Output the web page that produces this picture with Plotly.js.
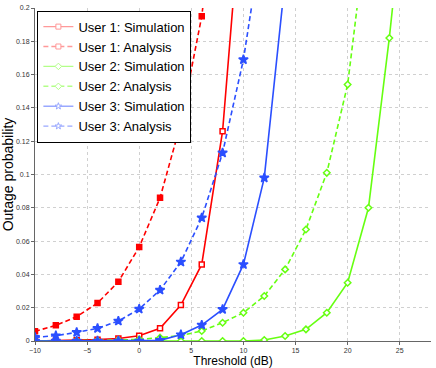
<!DOCTYPE html>
<html>
<head>
<meta charset="utf-8">
<script src="https://cdn.plot.ly/plotly-3.0.1.min.js"></script>
<style>
  html, body { margin: 0; padding: 0; background: #fff; }
  #gd { width: 436px; height: 368px; }
</style>
</head>
<body>
<div id="gd"></div>
<script>
// threshold in dB, every 2 dB (last point of each curve runs past the top)
var thr = [-10, -8, -6, -4, -2, 0, 2, 4, 6, 8, 10, 12, 14, 16, 18, 20, 22, 24, 26];

var user1Sim = [0, 0.0002, 0.0004, 0.0008, 0.0015, 0.0032, 0.0076, 0.0216, 0.046, 0.126, 0.279];
var user1Ana = [0.0058, 0.0094, 0.0146, 0.0228, 0.0356, 0.0565, 0.086, 0.131, 0.195, 0.30];
var user2Sim = [0, 0, 0, 0, 0, 0, 0, 0, 0, 0, 0, 0.0006, 0.003, 0.007, 0.017, 0.035, 0.080, 0.182, 0.30];
var user2Ana = [0, 0, 0.0001, 0.0003, 0.0006, 0.001, 0.002, 0.0033, 0.006, 0.011, 0.017, 0.027, 0.043, 0.067, 0.101, 0.154, 0.256];
var user3Sim = [0, 0, 0, 0, 0, 0, 0.0004, 0.0038, 0.0096, 0.019, 0.046, 0.098, 0.217];
var user3Ana = [0.0022, 0.0032, 0.0052, 0.0076, 0.012, 0.0192, 0.0306, 0.0475, 0.074, 0.113, 0.169, 0.25];

var red = "#ff0000", green = "#66ff11", blue = "#2b4fff";

function series(y, name, color, dash, symbol, fill) {
  return {
    type: "scatter",
    mode: "lines+markers",
    x: thr.slice(0, y.length),
    y: y,
    name: name,
    showlegend: false,
    line: {color: color, width: 1.6, dash: dash},
    marker: {
      symbol: symbol,
      size: symbol.indexOf("star") === 0 ? 7 : 5,
      color: fill ? color : "#fff",
      line: {color: color, width: 1.5}
    }
  };
}

// legend entries in the faded style of the original
function legendEntry(name, color, dash, symbol) {
  return {
    type: "scatter",
    mode: "lines+markers",
    x: [null],
    y: [null],
    name: name,
    line: {color: color, width: 1.4, dash: dash},
    marker: {symbol: symbol, size: 5, color: "#fff", line: {color: color, width: 1}}
  };
}

var dashed = "5px,3px";

var data = [
  series(user1Sim, "User 1: Simulation", red, "solid", "square", false),
  series(user1Ana, "User 1: Analysis", red, dashed, "square", true),
  series(user2Sim, "User 2: Simulation", green, "solid", "diamond", false),
  series(user2Ana, "User 2: Analysis", green, dashed, "diamond", false),
  series(user3Sim, "User 3: Simulation", blue, "solid", "star", true),
  series(user3Ana, "User 3: Analysis", blue, dashed, "star", true),
  legendEntry("User 1: Simulation", "#ff9999", "solid", "square"),
  legendEntry("User 1: Analysis", "#ff9999", dashed, "square"),
  legendEntry("User 2: Simulation", "#b3ff88", "solid", "diamond"),
  legendEntry("User 2: Analysis", "#b3ff88", dashed, "diamond"),
  legendEntry("User 3: Simulation", "#99a8ff", "solid", "star"),
  legendEntry("User 3: Analysis", "#99a8ff", dashed, "star")
];

var layout = {
  width: 436,
  height: 368,
  margin: {l: 35, r: 5, t: 8, b: 27},
  paper_bgcolor: "#fff",
  plot_bgcolor: "#fff",
  font: {family: "Liberation Sans, Arial, sans-serif", color: "#000"},
  showlegend: true,
  legend: {
    x: 0.006, y: 0.992, xanchor: "left", yanchor: "top",
    bgcolor: "#fff", bordercolor: "#000", borderwidth: 1,
    font: {size: 13, color: "#000"},
    itemwidth: 30,
    tracegroupgap: 0
  },
  xaxis: {
    range: [-10, 28],
    tickvals: [-10, -5, 0, 5, 10, 15, 20, 25],
    tickfont: {size: 7, color: "#333"},
    ticks: "outside", ticklen: 3, tickcolor: "#666",
    showline: true, linecolor: "#666", linewidth: 1,
    showgrid: true, gridcolor: "#d0d0d0", griddash: "dot", gridwidth: 1,
    zeroline: false,
    title: {text: "Threshold (dB)", font: {size: 12}, standoff: 4}
  },
  yaxis: {
    range: [0, 0.2],
    tickvals: [0, 0.02, 0.04, 0.06, 0.08, 0.1, 0.12, 0.14, 0.16, 0.18, 0.2],
    ticktext: ["0", "0.02", "0.04", "0.06", "0.08", "0.1", "0.12", "0.14", "0.16", "0.18", "0.2"],
    tickfont: {size: 7, color: "#333"},
    ticks: "outside", ticklen: 3, tickcolor: "#666",
    showline: true, linecolor: "#666", linewidth: 1,
    showgrid: true, gridcolor: "#d0d0d0", griddash: "dot", gridwidth: 1,
    zeroline: false,
    title: {text: "Outage probability", font: {size: 14}, standoff: 2}
  }
};

Plotly.newPlot("gd", data, layout, {displayModeBar: false, staticPlot: true});
</script>
</body>
</html>
